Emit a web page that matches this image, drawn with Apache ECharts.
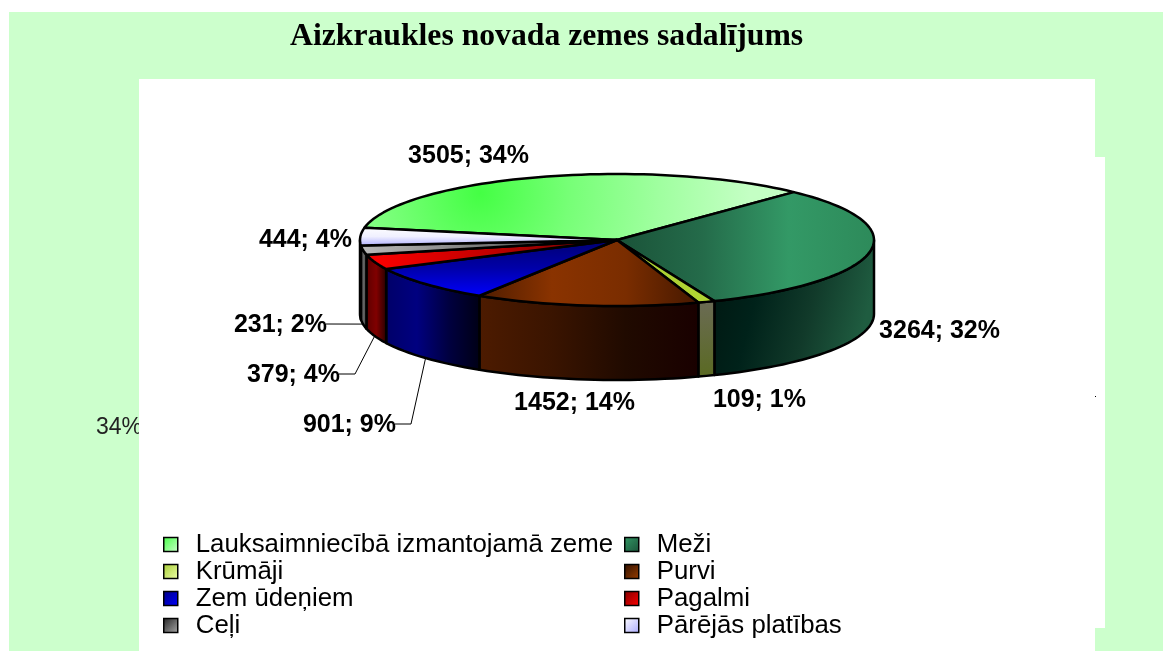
<!DOCTYPE html>
<html>
<head>
<meta charset="utf-8">
<title>Aizkraukles novada zemes sadalījums</title>
<style>
  html, body { margin: 0; padding: 0; background: #fff; }
  #main { width: 1163px; height: 651px; }
</style>
<script src="https://cdn.jsdelivr.net/npm/echarts@6/dist/echarts.min.js"></script>
</head>
<body>
<div id="main"></div>
<script>
var categories = ['Lauksaimniecībā izmantojamā zeme', 'Meži', 'Krūmāji', 'Purvi', 'Zem ūdeņiem', 'Pagalmi', 'Ceļi', 'Pārējās platības'];
var values = [3505, 3264, 109, 1452, 901, 379, 231, 444];

// pie placement
var cx = 617, cy = 240, rx = 257, ry = 66, depth = 74, startAngle = -79.2;
var total = values.reduce(function (a, b) { return a + b; }, 0);

function stopsOf(colors) {
  return colors.map(function (c, i) {
    return { offset: i / (colors.length - 1), color: c };
  });
}
function grad(x1, y1, x2, y2, colors) {
  return new echarts.graphic.LinearGradient(x1, y1, x2, y2, stopsOf(colors));
}

var topFills = [
  new echarts.graphic.RadialGradient(480, 193, 270, stopsOf(['#44ff44', '#77ff77', '#a0ffa0', '#c4ffc4']), true),
  grad(0, 0, 1, 0, ['#1a5238', '#246b4a', '#339966', '#2d8a5a']),
  grad(0, 0, 1, 0, ['#a6cc33', '#b3d633']),
  grad(0, 0, 1, 0, ['#4d1c00', '#8a3300', '#7a2d00', '#451800']),
  grad(0, 0, 0, 1, ['#000070', '#0000a8', '#0000ff']),
  grad(0, 0, 1, 0, ['#ff0000', '#c00000', '#600000']),
  grad(0, 0, 1, 0, ['#bbbbbb', '#777777', '#111111']),
  grad(0, 0, 0, 1, ['#ffffff', '#f0f0ff', '#aaaaff'])
];
var wallFills = [
  '#444444',
  grad(0, 0, 1, 0.3, ['#001610', '#00221a', '#113a2a', '#1f5c40']),
  grad(0, 0, 0, 1, ['#6b6b55', '#5a6a22']),
  grad(0, 0, 1, 0, ['#4d1b00', '#3a1400', '#200a00', '#190000']),
  grad(0, 0, 1, 0, ['#000068', '#000080', '#000040', '#000014']),
  grad(0, 0, 1, 0, ['#5a0000', '#800000', '#200000']),
  grad(0, 0, 1, 0, ['#222222', '#666666', '#333333']),
  grad(0, 0, 1, 0, ['#333333', '#555555'])
];
var legendFills = [
  grad(0, 0, 1, 1, ['#44ff44', '#ccffcc']),
  grad(0, 0, 1, 1, ['#339966', '#1a5238']),
  grad(0, 0, 1, 1, ['#a6cc33', '#eeffaa']),
  grad(0, 0, 1, 1, ['#2e1000', '#993d00']),
  grad(0, 0, 1, 1, ['#000080', '#0000ff']),
  grad(0, 0, 1, 1, ['#800000', '#ff0000']),
  grad(0, 0, 1, 1, ['#222222', '#aaaaaa']),
  grad(0, 0, 1, 1, ['#ffffff', '#aaaaff'])
];

// label text anchor (right end, middle) and the elbow of the leader line
var labelPos = [
  [529, 155], [1000, 330], [806, 399], [635, 402],
  [396, 424], [340, 374], [327, 324], [352, 239]
];
var leaderElbow = [null, null, null, null, [411, 424], [355, 374], null, null];
var showLeader = [false, false, false, false, true, true, true, false];

function point(deg, dy) {
  var r = deg * Math.PI / 180;
  return [cx + rx * Math.sin(r), cy - ry * Math.cos(r) + (dy || 0)];
}

function sliceRange(i) {
  var before = 0;
  for (var k = 0; k < i; k++) before += values[k];
  return [startAngle + before / total * 360, startAngle + (before + values[i]) / total * 360];
}

function arc(a0, a1, dy) {
  var pts = [], n = Math.max(2, Math.ceil(Math.abs(a1 - a0) / 2));
  for (var k = 0; k <= n; k++) pts.push(point(a0 + (a1 - a0) * k / n, dy));
  return pts;
}

function renderSlice(i) {
  return function () {
    var range = sliceRange(i), a0 = range[0], a1 = range[1], children = [];

    // the visible wall is the front half of the rim, 90..270 deg from the top
    var w0 = Math.max(a0, 90), w1 = Math.min(a1, 270);
    if (w1 > w0) {
      children.push({
        type: 'polygon',
        shape: { points: arc(w0, w1, 0).concat(arc(w1, w0, depth)) },
        style: { fill: wallFills[i], stroke: '#000', lineWidth: 2.5, lineJoin: 'round' }
      });
    }
    children.push({
      type: 'polygon',
      shape: { points: [[cx, cy]].concat(arc(a0, a1, 0)) },
      style: { fill: topFills[i], stroke: '#000', lineWidth: 2.5, lineJoin: 'round' }
    });

    if (showLeader[i]) {
      var pts = [[labelPos[i][0] - 1, labelPos[i][1]]];
      if (leaderElbow[i]) pts.push(leaderElbow[i]);
      pts.push(point((a0 + a1) / 2, depth));
      children.push({
        type: 'polyline',
        shape: { points: pts },
        style: { fill: null, stroke: '#000', lineWidth: 1 }
      });
    }

    children.push({
      type: 'text',
      z2: 10,
      style: {
        x: labelPos[i][0],
        y: labelPos[i][1] + 1,
        text: values[i] + '; ' + Math.round(values[i] / total * 100) + '%',
        align: 'right',
        verticalAlign: 'middle',
        fill: '#000',
        font: 'bold 25px "Liberation Sans", Arial, sans-serif'
      }
    });
    return { type: 'group', children: children };
  };
}

var series = categories.map(function (name, i) {
  return {
    type: 'custom',
    name: name,
    coordinateSystem: 'none',
    silent: true,
    animation: false,
    itemStyle: { color: legendFills[i] },
    data: [[values[i]]],
    renderItem: renderSlice(i)
  };
});

function legendFor(names, idx, left) {
  return {
    orient: 'vertical',
    left: left,
    top: 531,
    icon: 'rect',
    itemWidth: 14,
    itemHeight: 14,
    itemGap: 0,
    padding: 0,
    selectedMode: false,
    data: names.map(function (n, k) {
      return { name: n, itemStyle: { color: legendFills[idx[k]], borderColor: '#000', borderWidth: 1.5 } };
    }),
    textStyle: {
      color: '#000',
      fontFamily: '"Liberation Sans", Arial, sans-serif',
      fontSize: 25.8,
      lineHeight: 27,
      padding: [0, 0, 0, 13]
    }
  };
}

var chart = echarts.init(document.getElementById('main'));
chart.setOption({
  animation: false,
  title: {
    text: 'Aizkraukles novada zemes sadalījums',
    left: 290,
    top: 21,
    padding: 0,
    textStyle: {
      color: '#000',
      fontFamily: '"Liberation Serif", serif',
      fontWeight: 'bold',
      fontSize: 31.7
    }
  },
  legend: [
    legendFor([categories[0], categories[2], categories[4], categories[6]], [0, 2, 4, 6], 163),
    legendFor([categories[1], categories[3], categories[5], categories[7]], [1, 3, 5, 7], 624)
  ],
  graphic: [
    { type: 'rect', z: -5, silent: true, shape: { x: 9, y: 12, width: 1154, height: 639 }, style: { fill: '#ccffcc' } },
    { type: 'text', z: -4, silent: true, style: { x: 96, y: 428, text: '34%', verticalAlign: 'middle', fill: '#222', font: '23px "Liberation Sans", Arial, sans-serif' } },
    { type: 'rect', z: -3, silent: true, shape: { x: 139, y: 79, width: 956, height: 572 }, style: { fill: '#fff' } },
    { type: 'rect', z: -3, silent: true, shape: { x: 1095, y: 157, width: 10, height: 471 }, style: { fill: '#fff' } },
    { type: 'rect', z: -2, silent: true, shape: { x: 1095, y: 396, width: 1, height: 1 }, style: { fill: '#000' } }
  ],
  series: series
});
</script>
</body>
</html>
